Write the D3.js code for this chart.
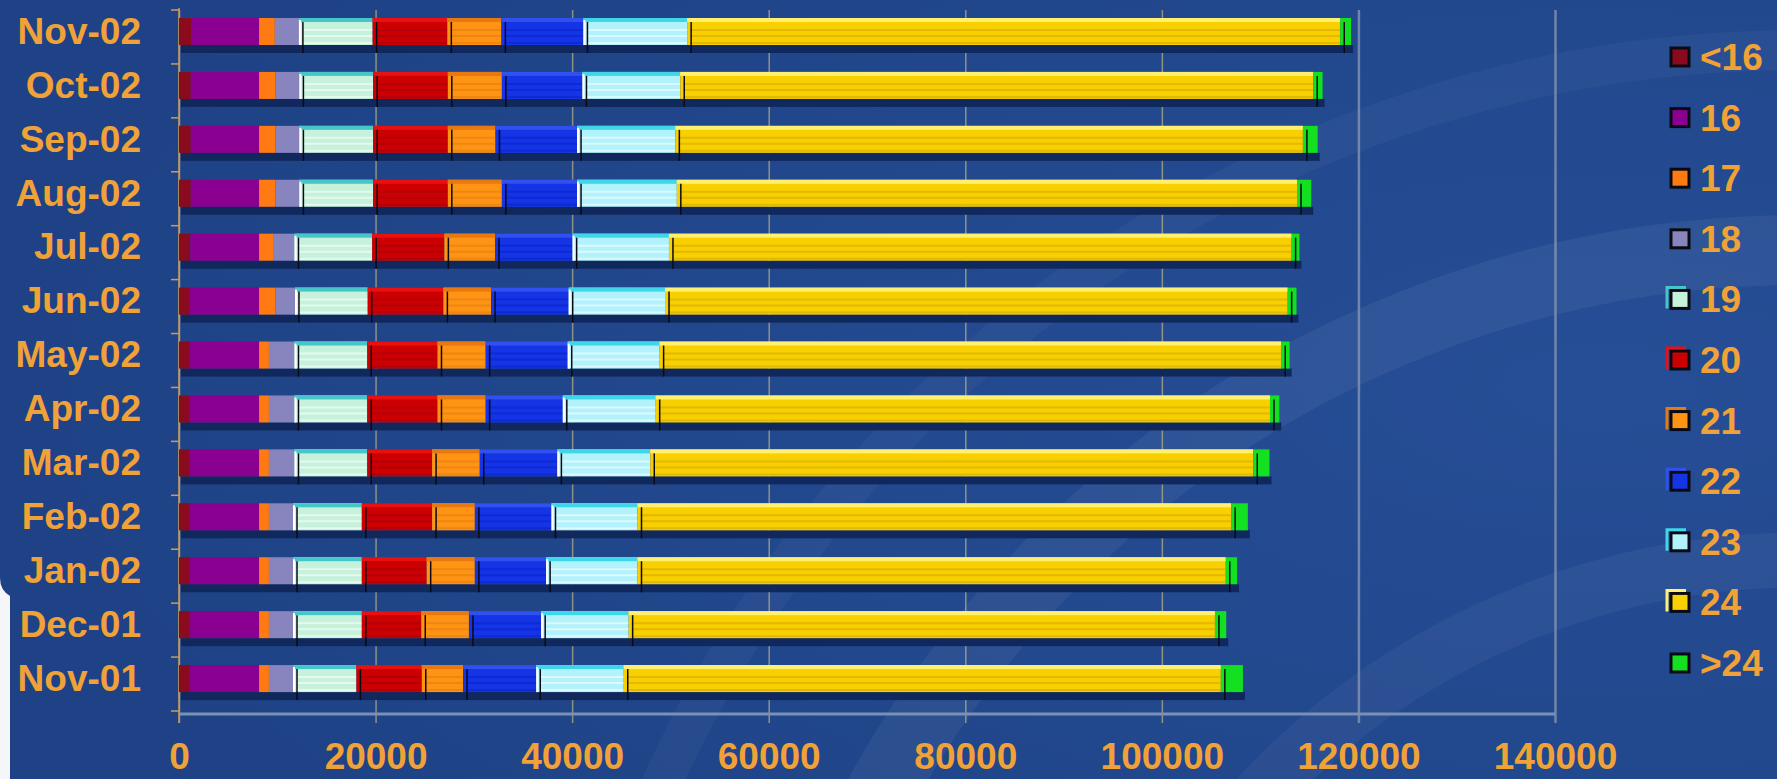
<!DOCTYPE html>
<html>
<head>
<meta charset="utf-8">
<script src="https://cdn.jsdelivr.net/npm/d3@7"></script>
<style>
  body { margin: 0; background: #1f4387; }
  svg { display: block; }
  text { font-family: "Liberation Sans", Arial, sans-serif; font-weight: bold; }
</style>
</head>
<body>
<div id="chart"></div>
<script>
// months, top row first
const months = ["Nov-02", "Oct-02", "Sep-02", "Aug-02", "Jul-02", "Jun-02", "May-02",
                "Apr-02", "Mar-02", "Feb-02", "Jan-02", "Dec-01", "Nov-01"];

const ageGroups = ["<16", "16", "17", "18", "19", "20", "21", "22", "23", "24", ">24"];

const under16 = [1250, 1200, 1200, 1200, 1150, 1100, 1100, 1100, 1100, 1100, 1100, 1100, 1100];
const age16   = [6900, 6950, 6950, 6950, 7000, 7050, 7050, 7050, 7050, 7050, 7050, 7050, 7050];
const age17   = [1600, 1650, 1650, 1650, 1500, 1650, 1000, 1000, 1000, 1000, 1000, 1000, 1000];
const age18   = [2450, 2450, 2450, 2450, 2100, 2000, 2600, 2600, 2600, 2450, 2450, 2450, 2450];
const age19   = [7500, 7500, 7500, 7500, 7900, 7400, 7400, 7400, 7400, 7000, 7000, 7000, 6450];
const age20   = [7600, 7600, 7600, 7600, 7350, 7700, 7150, 7150, 6600, 7150, 6600, 6050, 6650];
const age21   = [5500, 5500, 4850, 5500, 5150, 4850, 4900, 4900, 4850, 4350, 4900, 4850, 4200];
const age22   = [8350, 8200, 8300, 7650, 7900, 7900, 8350, 7850, 7900, 7800, 7250, 7350, 7450];
const age23   = [10550, 9950, 10000, 10150, 9800, 9800, 9350, 9450, 9450, 8750, 9300, 8900, 8900];
const age24   = [66450, 64400, 63850, 63100, 63350, 63350, 63250, 62500, 61350, 60400, 59850, 59650, 60750];
const over24  = [1100, 950, 1500, 1450, 800, 900, 850, 950, 1650, 1700, 1150, 1150, 2250];

const xTicks = [0, 20000, 40000, 60000, 80000, 100000, 120000, 140000];

const seriesValues = [under16, age16, age17, age18, age19, age20, age21, age22, age23, age24, over24];

// face colour, top edge colour, stripe colour
const fills   = ["#8a0a1e", "#8a0090", "#ff7a12", "#8884be", "#c6f2dc", "#cc0000", "#ff9414", "#1434e6", "#b2f2fc", "#f8d000", "#12e020"];
const tops    = [null, null, null, null, "#46c6c8", "#e81010", "#e87810", "#3050f0", "#3ed6e8", "#fff070", null];
const stripes = [null, null, null, null, "#ffffff", "#a00012", "#e07a0c", "#0a22c4", "#ffffff", "#d2a400", null];

const W = 1777, H = 779;
const textColor = "#f0a238";

const svg = d3.select("#chart").append("svg")
  .attr("width", W)
  .attr("height", H);

// background
const defs = svg.append("defs");
const bg = defs.append("radialGradient").attr("id", "bg")
  .attr("cx", "0.9").attr("cy", "0.5").attr("r", "0.9");
bg.append("stop").attr("offset", "0%").attr("stop-color", "#264e96");
bg.append("stop").attr("offset", "100%").attr("stop-color", "#1e4285");

svg.append("rect").attr("width", W).attr("height", H).attr("fill", "url(#bg)");

// faint decorative swooshes
[[1050, 70, 0.05], [740, 55, 0.045], [1250, 40, 0.035]].forEach(([r, w, o]) => {
  svg.append("circle")
    .attr("cx", 1800).attr("cy", 1300).attr("r", r)
    .attr("fill", "none")
    .attr("stroke", "#ffffff")
    .attr("stroke-opacity", o)
    .attr("stroke-width", w);
});

// white slide edge at the left
svg.append("path")
  .attr("d", "M0,578 Q0,590 10,596 L10,779 L0,779 Z")
  .attr("fill", "#f4f6fa");

const x = d3.scaleLinear().domain([0, 140000]).range([179, 1555]);
const y = d3.scaleBand().domain(months).range([10, 711]);

// grid lines
svg.append("g")
  .attr("transform", "translate(0,723)")
  .call(d3.axisBottom(x).tickValues(xTicks).tickSize(-713).tickFormat(""))
  .call(g => g.select(".domain").remove())
  .call(g => g.selectAll("line")
    .attr("stroke", d => d >= 120000 ? "#8c9ab4" : "#b4ac80")
    .attr("stroke-opacity", 0.75)
    .attr("stroke-width", d => d >= 120000 ? 2.5 : 1.5));

// x axis base line
svg.append("line")
  .attr("x1", x(0)).attr("x2", x(140000))
  .attr("y1", 714).attr("y2", 714)
  .attr("stroke", "#7a90b4")
  .attr("stroke-width", 3);

// x tick labels
svg.append("g")
  .attr("transform", "translate(0,714)")
  .call(d3.axisBottom(x).tickValues(xTicks).tickSize(0).tickPadding(29).tickFormat(d3.format("d")))
  .call(g => g.select(".domain").remove())
  .call(g => g.selectAll("text")
    .attr("fill", textColor)
    .style("font-size", "37px"));

// y axis line + ticks at band boundaries
svg.append("line")
  .attr("x1", 179).attr("x2", 179)
  .attr("y1", 8).attr("y2", 723)
  .attr("stroke", "#c89c5c")
  .attr("stroke-width", 1.5);

svg.append("g")
  .selectAll("line")
  .data(months.map(m => y(m)).concat([y.range()[1]]))
  .join("line")
    .attr("x1", 171).attr("x2", 179)
    .attr("y1", d => d).attr("y2", d => d)
    .attr("stroke", "#c89c5c")
    .attr("stroke-width", 1.5);

// y labels
svg.append("g")
  .attr("transform", "translate(179,-5)")
  .call(d3.axisLeft(y).tickSize(0).tickPadding(38))
  .call(g => g.select(".domain").remove())
  .call(g => g.selectAll("text")
    .attr("fill", textColor)
    .style("font-size", "37px"));

// stacked data
const rows = months.map((m, i) => {
  const row = { month: m };
  ageGroups.forEach((a, j) => { row[a] = seriesValues[j][i]; });
  return row;
});
const series = d3.stack().keys(ageGroups)(rows);

const faceTop = 8, faceH = 27, sideH = 8;

// dark side strip under each bar
svg.append("g")
  .selectAll("rect")
  .data(rows)
  .join("rect")
    .attr("x", x(0) + 2)
    .attr("y", d => y(d.month) + faceTop + faceH)
    .attr("width", (d, i) => x(series[series.length - 1][i][1]) - x(0))
    .attr("height", sideH)
    .attr("fill", "#11285c");

const layers = svg.append("g")
  .selectAll("g")
  .data(series)
  .join("g");

// faces
layers.selectAll("rect.face")
  .data(d => d)
  .join("rect")
    .attr("class", "face")
    .attr("x", d => x(d[0]))
    .attr("y", d => y(d.data.month) + faceTop)
    .attr("width", d => x(d[1]) - x(d[0]))
    .attr("height", faceH)
    .attr("fill", function() { return fills[d3.select(this.parentNode).datum().index]; });

// top highlights
layers.filter(s => tops[s.index])
  .selectAll("rect.top")
  .data(d => d)
  .join("rect")
    .attr("class", "top")
    .attr("x", d => x(d[0]))
    .attr("y", d => y(d.data.month) + faceTop)
    .attr("width", d => x(d[1]) - x(d[0]))
    .attr("height", 4)
    .attr("fill", function() { return tops[d3.select(this.parentNode).datum().index]; });

// horizontal stripes
[12, 18, 25].forEach(off => {
  layers.filter(s => stripes[s.index])
    .selectAll("line.s" + off)
    .data(d => d)
    .join("line")
      .attr("class", "s" + off)
      .attr("x1", d => x(d[0]) + 3)
      .attr("x2", d => x(d[1]))
      .attr("y1", d => y(d.data.month) + faceTop + off)
      .attr("y2", d => y(d.data.month) + faceTop + off)
      .attr("stroke", function() { return stripes[d3.select(this.parentNode).datum().index]; })
      .attr("stroke-opacity", 0.55)
      .attr("stroke-width", 2);
});

// bright left edge on the pale segments
layers.filter(s => s.key === "19" || s.key === "23")
  .selectAll("line.edge")
  .data(d => d)
  .join("line")
    .attr("class", "edge")
    .attr("x1", d => x(d[0]) + 1).attr("x2", d => x(d[0]) + 1)
    .attr("y1", d => y(d.data.month) + faceTop + 2)
    .attr("y2", d => y(d.data.month) + faceTop + faceH)
    .attr("stroke", "#ffffff")
    .attr("stroke-width", 2);

// black depth edges
layers.filter(s => s.index >= 4)
  .selectAll("line.depth")
  .data(d => d)
  .join("line")
    .attr("class", "depth")
    .attr("x1", d => x(d[0]) + 4).attr("x2", d => x(d[0]) + 4)
    .attr("y1", d => y(d.data.month) + faceTop + 4)
    .attr("y2", d => y(d.data.month) + faceTop + faceH + sideH)
    .attr("stroke", "#0a0a14")
    .attr("stroke-width", 1.5);

// legend
const legend = svg.append("g")
  .selectAll("g")
  .data(ageGroups)
  .join("g")
    .attr("transform", (d, i) => `translate(1680,${57 + i * 60.6})`);

legend.append("rect")
  .attr("x", -9).attr("y", -9)
  .attr("width", 18).attr("height", 18)
  .attr("fill", (d, i) => fills[i])
  .attr("stroke", "#0a0a14")
  .attr("stroke-width", 3);

legend.filter((d, i) => tops[i])
  .append("path")
  .attr("d", "M-13,9 L-13,-12 L6,-12")
  .attr("fill", "none")
  .attr("stroke", (d, i) => tops[ageGroups.indexOf(d)])
  .attr("stroke-width", 3);

legend.append("text")
  .attr("x", 20)
  .attr("y", 13)
  .attr("fill", textColor)
  .style("font-size", "37px")
  .text(d => d);
</script>
</body>
</html>
